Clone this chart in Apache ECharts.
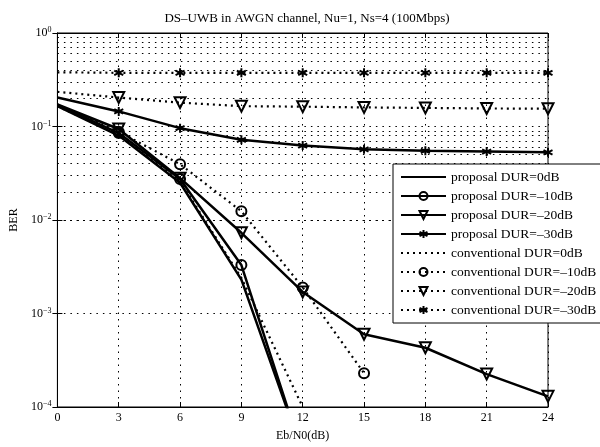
<!DOCTYPE html>
<html>
<head>
<meta charset="utf-8">
<script src="https://cdn.jsdelivr.net/npm/echarts@6/dist/echarts.min.js"></script>
<style>html,body{margin:0;padding:0;background:#fff}#c{width:600px;height:447px}</style>
</head>
<body>
<div id="c"></div>
<script>
// ---- data ----
const ebn0 = [0, 3, 6, 9, 12, 15, 18, 21, 24];
const propDUR0   = [0.165, 0.080, 0.025, 0.0023, 3.2e-5];
const propDUR10  = [0.170, 0.085, 0.0275, 0.0033, 3.1e-5];
const propDUR20  = [0.172, 0.094, 0.028, 0.0073, 0.0017, 0.0006, 0.00043, 0.000225, 0.00013];
const propDUR30  = [0.204, 0.145, 0.096, 0.072, 0.0625, 0.057, 0.055, 0.054, 0.053];
const convDUR0   = [0.165, 0.082, 0.026, 0.0024, 0.0001];
const convDUR10  = [0.172, 0.088, 0.0395, 0.0124, 0.0019, 0.00023];
const convDUR20  = [0.235, 0.204, 0.180, 0.165, 0.163, 0.160, 0.158, 0.156, 0.155];
const convDUR30  = [0.380, 0.375, 0.375, 0.375, 0.375, 0.375, 0.375, 0.375, 0.375];
const seriesNames = [
  'proposal DUR=0dB', 'proposal DUR=\u201310dB', 'proposal DUR=\u201320dB', 'proposal DUR=\u201330dB',
  'conventional DUR=0dB', 'conventional DUR=\u201310dB', 'conventional DUR=\u201320dB', 'conventional DUR=\u201330dB'
];
const xTicks = { min: 0, max: 24, interval: 3 };
const yExponents = { 1: '0', 0.1: '\u22121', 0.01: '\u22122', 0.001: '\u22123', 0.0001: '\u22124' };

// minor log grid values (2..9 x 10^k)
const minorGrid = [];
for (let k = -4; k < 0; k++) for (let m = 2; m <= 9; m++) minorGrid.push(+(m * Math.pow(10, k)).toPrecision(3));

const FONT = 'Liberation Serif';
const asterisk = 'path://M5,0L5,10M0.67,2.5L9.33,7.5M0.67,7.5L9.33,2.5';

function pts(arr) {
  return arr.map((v, i) => i === 0 ? { value: [ebn0[i], v], symbol: 'none' } : { value: [ebn0[i], v] });
}
function mk(name, arr, solid, symbol, size, rotate) {
  return {
    name, type: 'line', data: pts(arr),
    symbol: symbol || 'none', symbolSize: size || 10, symbolRotate: rotate || 0,
    showSymbol: !!symbol,
    lineStyle: { color: '#000', width: solid ? 2.5 : 2.2, type: solid ? 'solid' : [2, 4] },
    itemStyle: { color: 'rgba(255,255,255,0)', borderColor: '#000', borderWidth: 2 },
    emphasis: { disabled: true }, animation: false, clip: true, z: 3
  };
}

const series = [
  mk(seriesNames[0], propDUR0, true, null),
  mk(seriesNames[1], propDUR10, true, 'circle', 10),
  mk(seriesNames[2], propDUR20, true, 'triangle', 11, 180),
  mk(seriesNames[3], propDUR30, true, asterisk, 9),
  mk(seriesNames[4], convDUR0, false, null),
  mk(seriesNames[5], convDUR10, false, 'circle', 10),
  mk(seriesNames[6], convDUR20, false, 'triangle', 11, 180),
  mk(seriesNames[7], convDUR30, false, asterisk, 9)
];
series[0].markLine = {
  silent: true, symbol: 'none', animation: false, z: 1,
  label: { show: false },
  lineStyle: { color: '#000', type: [1.5, 5], width: 1 },
  data: minorGrid.map(v => ({ yAxis: v }))
};

const legendData = seriesNames.map((n, i) =>
  (i === 0 || i === 4) ? { name: n, itemStyle: { color: 'rgba(0,0,0,0)', borderWidth: 0, opacity: 0 } } : { name: n });

const chart = echarts.init(document.getElementById('c'), null, { renderer: 'canvas' });
chart.setOption({
  backgroundColor: '#fff',
  animation: false,
  textStyle: { fontFamily: FONT, color: '#000' },
  title: {
    text: 'DS\u2013UWB in AWGN channel, Nu=1, Ns=4 (100Mbps)',
    left: 302, top: 7, textAlign: 'center',
    textStyle: { fontFamily: FONT, fontSize: 13, fontWeight: 'normal', color: '#000' }
  },
  grid: { left: 55, right: 52, top: 33, bottom: 32, show: true, borderColor: '#000', borderWidth: 1, backgroundColor: 'transparent' },
  legend: {
    orient: 'vertical', left: 393, top: 164, z: 20,
    data: legendData,
    itemWidth: 45, itemHeight: 10, itemGap: 5,
    backgroundColor: '#fff', borderColor: '#000', borderWidth: 1,
    padding: [6, 10, 6, 7],
    textStyle: { fontFamily: FONT, fontSize: 13.5, color: '#000' },
    selectedMode: false
  },
  xAxis: [{
    type: 'value', min: xTicks.min, max: xTicks.max, interval: xTicks.interval,
    name: 'Eb/N0(dB)', nameLocation: 'middle', nameGap: 23,
    nameTextStyle: { fontFamily: FONT, fontSize: 12, color: '#000' },
    axisLine: { lineStyle: { color: '#000', width: 1 } },
    axisTick: { inside: true, length: 5, lineStyle: { color: '#000' } },
    axisLabel: { fontFamily: FONT, fontSize: 12, color: '#000', margin: 5 },
    splitLine: { show: true, lineStyle: { color: '#000', type: [1.5, 5], width: 1 } }
  }, {
    type: 'value', position: 'top', min: xTicks.min, max: xTicks.max, interval: xTicks.interval,
    axisLine: { show: true, lineStyle: { color: '#000' } },
    axisTick: { inside: true, length: 5, lineStyle: { color: '#000' } },
    axisLabel: { show: false }, splitLine: { show: false }
  }],
  yAxis: [{
    type: 'log', logBase: 10, min: 1e-4, max: 1,
    name: 'BER', nameLocation: 'middle', nameGap: 28, nameRotate: 90,
    nameTextStyle: { fontFamily: FONT, fontSize: 12, color: '#000' },
    axisLine: { show: true, lineStyle: { color: '#000', width: 1 } },
    axisTick: { inside: true, length: 5, lineStyle: { color: '#000' } },
    minorTick: { show: false },
    axisLabel: {
      margin: 6,
      formatter: v => {
        const key = Object.keys(yExponents).find(k => Math.abs(Math.log10(+k) - Math.log10(v)) < 1e-6);
        return '{b|10}{s|' + (key !== undefined ? yExponents[key] : '') + '}';
      },
      rich: {
        b: { fontFamily: FONT, fontSize: 12, color: '#000', lineHeight: 14 },
        s: { fontFamily: FONT, fontSize: 8, color: '#000', verticalAlign: 'top', lineHeight: 14, padding: [0, 0, 9, 0] }
      }
    },
    splitLine: { show: true, lineStyle: { color: '#000', type: [1.5, 5], width: 1 } }
  }, {
    type: 'log', logBase: 10, min: 1e-4, max: 1, position: 'right',
    axisLine: { show: true, lineStyle: { color: '#000' } },
    axisTick: { inside: true, length: 5, lineStyle: { color: '#000' } },
    axisLabel: { show: false }, splitLine: { show: false }
  }],
  series
});
</script>
</body>
</html>
